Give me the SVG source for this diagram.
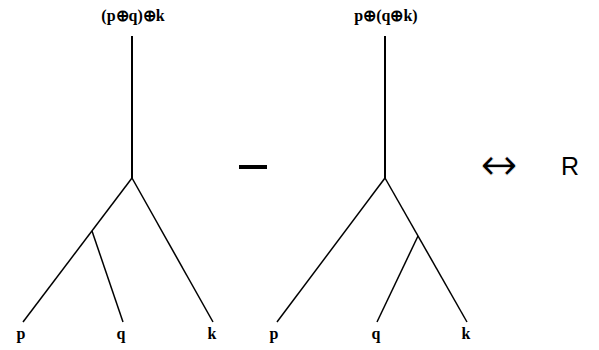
<svg xmlns="http://www.w3.org/2000/svg" width="599" height="350" viewBox="0 0 599 350">
<style>
.e{stroke:#000;stroke-width:1.5;fill:none}
.r{stroke:#000;stroke-width:2;fill:none}
.lb{font-family:"Liberation Serif","Times New Roman",serif;font-weight:bold;font-size:16px;fill:#000;text-anchor:middle}
.s{font-family:"Liberation Sans",Arial,sans-serif;fill:#000;text-anchor:middle}
.a{font-family:"DejaVu Sans",sans-serif;fill:#000;stroke:#fff;stroke-width:0.8;text-anchor:middle}
</style>
<rect width="599" height="350" fill="#fff"/>
<g id="connectors">
<line class="r" x1="132" y1="36" x2="132" y2="178"/>
<line class="e" x1="132" y1="178" x2="23" y2="322"/>
<line class="e" x1="132" y1="178" x2="213" y2="322"/>
<line class="e" x1="92" y1="231" x2="123" y2="322"/>
<line class="r" x1="385" y1="36" x2="385" y2="178"/>
<line class="e" x1="385" y1="178" x2="277" y2="322"/>
<line class="e" x1="385" y1="178" x2="467" y2="322"/>
<line class="e" x1="418" y1="236" x2="377" y2="322"/>
</g>
<g id="left-root"><text class="lb" x="133" y="21">(p⊕q)⊕k</text></g>
<g id="left-p"><text class="lb" x="21" y="339">p</text></g>
<g id="left-q"><text class="lb" x="121" y="339">q</text></g>
<g id="left-k"><text class="lb" x="212" y="339">k</text></g>
<g id="right-root"><text class="lb" x="386" y="21">p⊕(q⊕k)</text></g>
<g id="right-p"><text class="lb" x="274" y="339">p</text></g>
<g id="right-q"><text class="lb" x="376" y="339">q</text></g>
<g id="right-k"><text class="lb" x="466" y="339">k</text></g>
<g id="minus"><rect x="239" y="165" width="28" height="4" fill="#000"/></g>
<g id="arrow"><text class="a" x="499" y="180" font-size="45">↔</text></g>
<g id="R"><text class="s" x="570" y="175" font-size="25">R</text></g>
</svg>
